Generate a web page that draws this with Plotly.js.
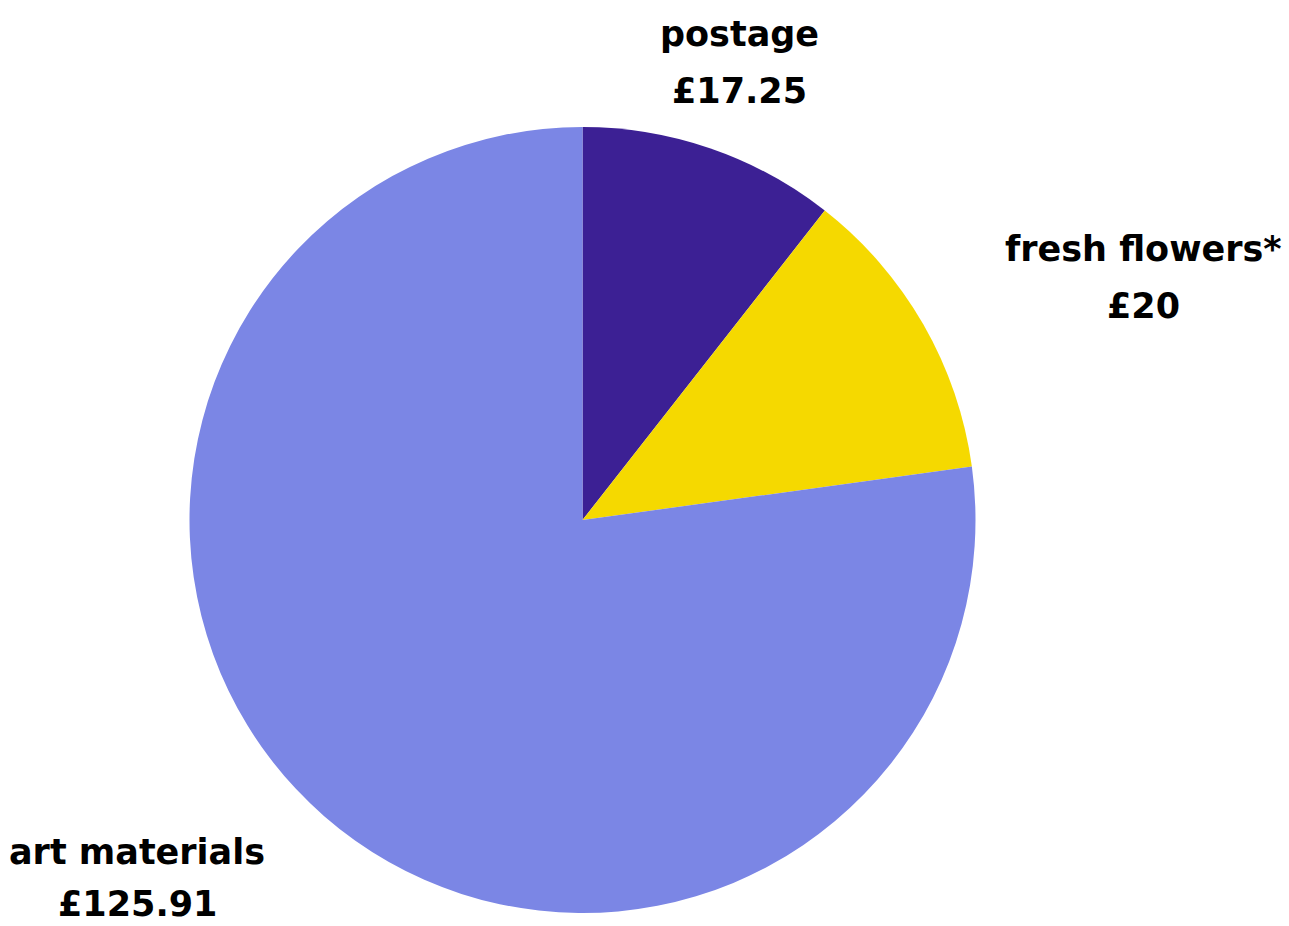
<!DOCTYPE html>
<html>
<head>
<meta charset="utf-8">
<script src="https://cdn.plot.ly/plotly-3.0.1.min.js"></script>
<style>html,body{margin:0;padding:0;background:#fff;}#chart{width:1289px;height:926px;}</style>
</head>
<body>
<div id="chart"></div>
<script>
const categories = ["postage", "fresh flowers*", "art materials"];
const values = [17.25, 20, 125.91];
const valueLabels = ["£17.25", "£20", "£125.91"];
const colors = ["#3C2094", "#F5D900", "#7B86E5"];

const W = 1289, H = 926;
// label anchor positions in pixels (layout only)
const labelPos = [[739, 34, 91], [1143, 249, 306], [137, 852, 904]];
const fs = 35;
const font = {family: "'DejaVu Sans', sans-serif", size: fs, color: "#000", weight: 700};

const annotations = [];
categories.forEach((c, i) => {
  const [x, y1, y2] = labelPos[i];
  annotations.push({text: c, x: x / W, y: 1 - y1 / H, xref: "paper", yref: "paper",
    xanchor: "center", yanchor: "middle", showarrow: false, font: font});
  annotations.push({text: valueLabels[i], x: x / W, y: 1 - y2 / H, xref: "paper", yref: "paper",
    xanchor: "center", yanchor: "middle", showarrow: false, font: font});
});

const data = [{
  type: "pie",
  labels: categories,
  values: values,
  sort: false,
  direction: "clockwise",
  rotation: 0,
  marker: {colors: colors, line: {width: 0}},
  textinfo: "none",
  hoverinfo: "label+value",
  domain: {x: [189 / W, 976 / W], y: [1 - 913 / H, 1 - 127 / H]}
}];

const layout = {
  width: W, height: H,
  margin: {l: 0, r: 0, t: 0, b: 0},
  showlegend: false,
  paper_bgcolor: "#fff",
  annotations: annotations
};

Plotly.newPlot("chart", data, layout, {displayModeBar: false, staticPlot: true});
</script>
</body>
</html>
